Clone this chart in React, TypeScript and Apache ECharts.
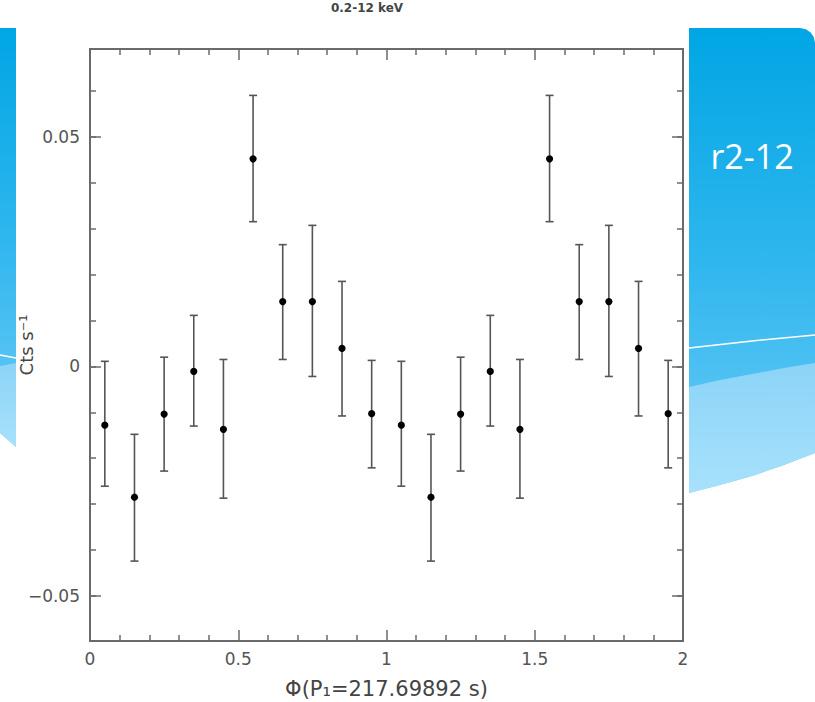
import React, { useEffect, useRef } from "react";
import * as echarts from "echarts";

// Phase bins (two cycles)
const phase = [0.05, 0.15, 0.25, 0.35, 0.45, 0.55, 0.65, 0.75, 0.85, 0.95,
  1.05, 1.15, 1.25, 1.35, 1.45, 1.55, 1.65, 1.75, 1.85, 1.95];
// Count rate (Cts s^-1)
const rate = [-0.0128, -0.0285, -0.0104, -0.0011, -0.0137, 0.0452, 0.0141, 0.0141, 0.0039, -0.0103,
  -0.0128, -0.0285, -0.0104, -0.0011, -0.0137, 0.0452, 0.0141, 0.0141, 0.0039, -0.0103];
// Error bar lower / upper bounds
const errLow = [-0.0261, -0.0424, -0.0228, -0.013, -0.0287, 0.0315, 0.0015, -0.0022, -0.0108, -0.0221,
  -0.0261, -0.0424, -0.0228, -0.013, -0.0287, 0.0315, 0.0015, -0.0022, -0.0108, -0.0221];
const errHigh = [0.0011, -0.0148, 0.002, 0.0111, 0.0015, 0.059, 0.0265, 0.0307, 0.0185, 0.0013,
  0.0011, -0.0148, 0.002, 0.0111, 0.0015, 0.059, 0.0265, 0.0307, 0.0185, 0.0013];

const yMajorTicks = [-0.05, 0, 0.05];
const yMinorTicks = [-0.05, -0.04, -0.03, -0.02, -0.01, 0, 0.01, 0.02, 0.03, 0.04, 0.05, 0.06];

const xName = "Φ(P\u2081=217.69892 s)";
const yName = "Cts s\u207B\u00B9";
const slideLabel = "r2-12";
const topTitle = "0.2-12 keV";

const AX = "#6a6a6a";
const LBL = "#555";
const FONT = "DejaVu Sans";

export default function App() {
  const ref = useRef<HTMLDivElement>(null);
  useEffect(() => {
    if (!ref.current) return;
    const chart = echarts.init(ref.current, undefined, { renderer: "svg" });
    const data = phase.map((p, i) => [p, rate[i], errLow[i], errHigh[i]]);

    const yBase = {
      type: "value",
      min: -0.0598,
      max: 0.0691,
      splitLine: { show: false },
      axisLine: { show: false, onZero: false },
    };
    const fmtY = (v: number) => {
      if (Math.abs(v) < 1e-9) return "0";
      return (v < 0 ? "\u2212" : "") + Math.abs(v).toFixed(2);
    };
    const xBase = {
      type: "value",
      min: 0,
      max: 2,
      interval: 0.5,
      splitLine: { show: false },
      axisLine: { show: false, onZero: false },
      axisTick: { show: true, inside: true, length: 11, lineStyle: { color: AX, width: 1.5 } },
      minorTick: { show: true, splitNumber: 5, length: 6, lineStyle: { color: AX, width: 1.5 } },
    };

    const bluePanel = new echarts.graphic.LinearGradient(0, 0, 0, 1, [
      { offset: 0, color: "#00a6e4" },
      { offset: 0.5, color: "#2fb6ee" },
      { offset: 1, color: "#6ccbf6" },
    ]);
    const bluePanelL = new echarts.graphic.LinearGradient(0, 0, 0, 1, [
      { offset: 0, color: "#00a6e4" },
      { offset: 0.5, color: "#2fb6ee" },
      { offset: 1, color: "#6ccbf6" },
    ]);
    const lightBlue = new echarts.graphic.LinearGradient(0, 0, 0, 1, [
      { offset: 0, color: "#8bd4f8" },
      { offset: 1, color: "#a8e1fb" },
    ]);
    const lightBlueL = new echarts.graphic.LinearGradient(0, 0, 0, 1, [
      { offset: 0, color: "#8bd4f8" },
      { offset: 1, color: "#a8e1fb" },
    ]);

    chart.setOption({
      animation: false,
      backgroundColor: "#ffffff",
      grid: {
        left: 90,
        top: 49,
        width: 593,
        height: 592,
        show: true,
        borderColor: AX,
        borderWidth: 2,
        backgroundColor: "transparent",
        containLabel: false,
        outerBoundsMode: "none",
      },
      xAxis: [
        {
          ...xBase,
          position: "bottom",
          axisLabel: { color: LBL, fontSize: 17, fontFamily: FONT, margin: 9 },
          name: xName,
          nameLocation: "middle",
          nameGap: 37,
          nameMoveOverlap: false,
          nameTextStyle: { color: "#444", fontSize: 21, fontFamily: FONT },
        },
        { ...xBase, position: "top", axisLabel: { show: false } },
      ],
      yAxis: [
        {
          ...yBase,
          position: "left",
          axisTick: { show: true, inside: true, length: 11, customValues: yMajorTicks, lineStyle: { color: AX, width: 1.5 } },
          axisLabel: { color: LBL, fontSize: 17, fontFamily: FONT, margin: 10, customValues: yMajorTicks, formatter: fmtY },
          name: yName,
          nameLocation: "middle",
          nameGap: 55,
          nameMoveOverlap: false,
          nameRotate: 90,
          nameTextStyle: { color: "#444", fontSize: 18, fontFamily: FONT },
        },
        {
          ...yBase,
          position: "left",
          axisTick: { show: true, inside: true, length: 6, customValues: yMinorTicks, lineStyle: { color: AX, width: 1.5 } },
          axisLabel: { show: false },
        },
        {
          ...yBase,
          position: "right",
          axisTick: { show: true, inside: true, length: 11, customValues: yMajorTicks, lineStyle: { color: AX, width: 1.5 } },
          axisLabel: { show: false },
        },
        {
          ...yBase,
          position: "right",
          axisTick: { show: true, inside: true, length: 6, customValues: yMinorTicks, lineStyle: { color: AX, width: 1.5 } },
          axisLabel: { show: false },
        },
      ],
      series: [
        {
          type: "custom",
          xAxisIndex: 0,
          yAxisIndex: 0,
          clip: false,
          data,
          renderItem: (params: any, api: any) => {
            const p = api.coord([api.value(0), api.value(1)]);
            const lo = api.coord([api.value(0), api.value(2)]);
            const hi = api.coord([api.value(0), api.value(3)]);
            const cap = 4;
            const ls = { stroke: "#555", lineWidth: 1.6 };
            return {
              type: "group",
              children: [
                { type: "line", shape: { x1: p[0], y1: lo[1], x2: p[0], y2: hi[1] }, style: ls },
                { type: "line", shape: { x1: p[0] - cap, y1: lo[1], x2: p[0] + cap, y2: lo[1] }, style: ls },
                { type: "line", shape: { x1: p[0] - cap, y1: hi[1], x2: p[0] + cap, y2: hi[1] }, style: ls },
                { type: "circle", shape: { cx: p[0], cy: p[1], r: 3.6 }, style: { fill: "#000" } },
              ],
            };
          },
        },
      ],
      graphic: [
        {
          type: "text",
          x: 367,
          y: 8,
          z: 10,
          style: { text: topTitle, fill: "#444", font: `bold 12px ${FONT}`, align: "center", verticalAlign: "middle" },
        },
        // Right blue slide panel
        {
          type: "polygon",
          z: -5,
          shape: {
            points: [
              [689, 28], [800, 28], [806, 29.2], [810.6, 32.4], [813.8, 37], [815, 43],
              [815, 453], [784, 465], [752, 476], [720, 485], [689, 493],
            ],
          },
          style: { fill: bluePanel },
        },
        {
          type: "polygon",
          z: -4,
          shape: {
            points: [
              [689, 387], [720, 380], [752, 374], [784, 368], [815, 363],
              [815, 453], [784, 465], [752, 476], [720, 485], [689, 493],
            ],
          },
          style: { fill: lightBlue },
        },
        {
          type: "polyline",
          z: -3,
          shape: { points: [[689, 348], [752, 341], [815, 335]] },
          style: { stroke: "#ffffff", lineWidth: 1.5, fill: "none" },
        },
        {
          type: "text",
          x: 752,
          y: 156,
          z: -2,
          style: { text: slideLabel, fill: "#ffffff", font: `34px "Open Sans"`, align: "center", verticalAlign: "middle" },
        },
        // Left blue slide panel
        {
          type: "polygon",
          z: -5,
          shape: { points: [[0, 28], [16, 28], [16, 447], [0, 433]] },
          style: { fill: bluePanelL },
        },
        {
          type: "polygon",
          z: -4,
          shape: { points: [[0, 366], [16, 363], [16, 447], [0, 433]] },
          style: { fill: lightBlueL },
        },
        {
          type: "line",
          z: -3,
          shape: { x1: 0, y1: 355, x2: 16, y2: 358 },
          style: { stroke: "#ffffff", lineWidth: 1.5 },
        },
      ],
    });
    return () => chart.dispose();
  }, []);
  return (
    <div
      ref={ref}
      style={{ position: "fixed", left: 0, top: 0, width: 815, height: 702 }}
    />
  );
}
